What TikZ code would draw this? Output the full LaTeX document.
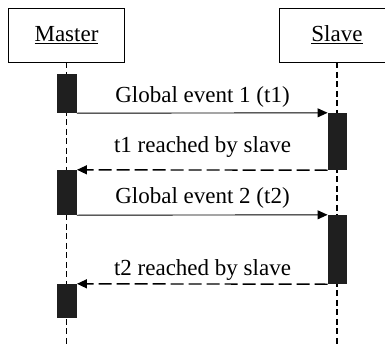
\documentclass[tikz,border=0pt]{standalone}
\usepackage{fontspec}
\setmainfont{Liberation Serif}
\usetikzlibrary{arrows.meta}
\begin{document}
\begin{tikzpicture}[
    x=1pt, y=-1pt,
    every node/.style={inner sep=0pt, font=\fontsize{23}{27}\selectfont},
    actor/.style={draw, line width=0.8pt, minimum width=116pt, minimum height=54pt},
    bar/.style={fill=black!88, minimum width=19.5pt},
    lifeline/.style={line width=1.6pt, dash pattern=on 6pt off 3.5pt},
    call/.style={line width=0.9pt, -{Triangle[length=10pt, width=9pt]}},
    reply/.style={line width=1.4pt, dash pattern=on 13pt off 5pt, -{Triangle[length=10pt, width=9pt]}}
]
\useasboundingbox (0,0) rectangle (385,345);
\node[actor] (master) at (66.5,35) {\underline{Master}};
\node[actor] (slave) at (337,35) {\underline{Slave}};
\coordinate (mend) at (66.5,345);
\coordinate (send) at (337,345);
\draw[lifeline] (master.south) -- (mend);
\draw[lifeline] (slave.south) -- (send);
% activation bars
\node[bar, minimum height=39pt] (mbar1) at (67,93.5) {};
\node[bar, minimum height=57pt] (sbar1) at (337.5,141.5) {};
\node[bar, minimum height=45pt] (mbar2) at (67,192.5) {};
\node[bar, minimum height=69pt] (sbar2) at (337.5,249.5) {};
\node[bar, minimum height=34pt] (mbar3) at (67,301) {};
% messages
\draw[call] (mbar1.south east) -- (sbar1.north west);
\draw[reply] (sbar1.south west) -- (mbar2.north east);
\draw[call] (mbar2.south east) -- (sbar2.north west);
\draw[reply] (sbar2.south west) -- (mbar3.north east);
\node[anchor=base] (ev1) at (202.5,102) {Global event 1 (t1)};
\node[anchor=base] (ack1) at (202.5,152) {t1 reached by slave};
\node[anchor=base] (ev2) at (202.5,203) {Global event 2 (t2)};
\node[anchor=base] (ack2) at (202.5,275) {t2 reached by slave};
\end{tikzpicture}
\end{document}
